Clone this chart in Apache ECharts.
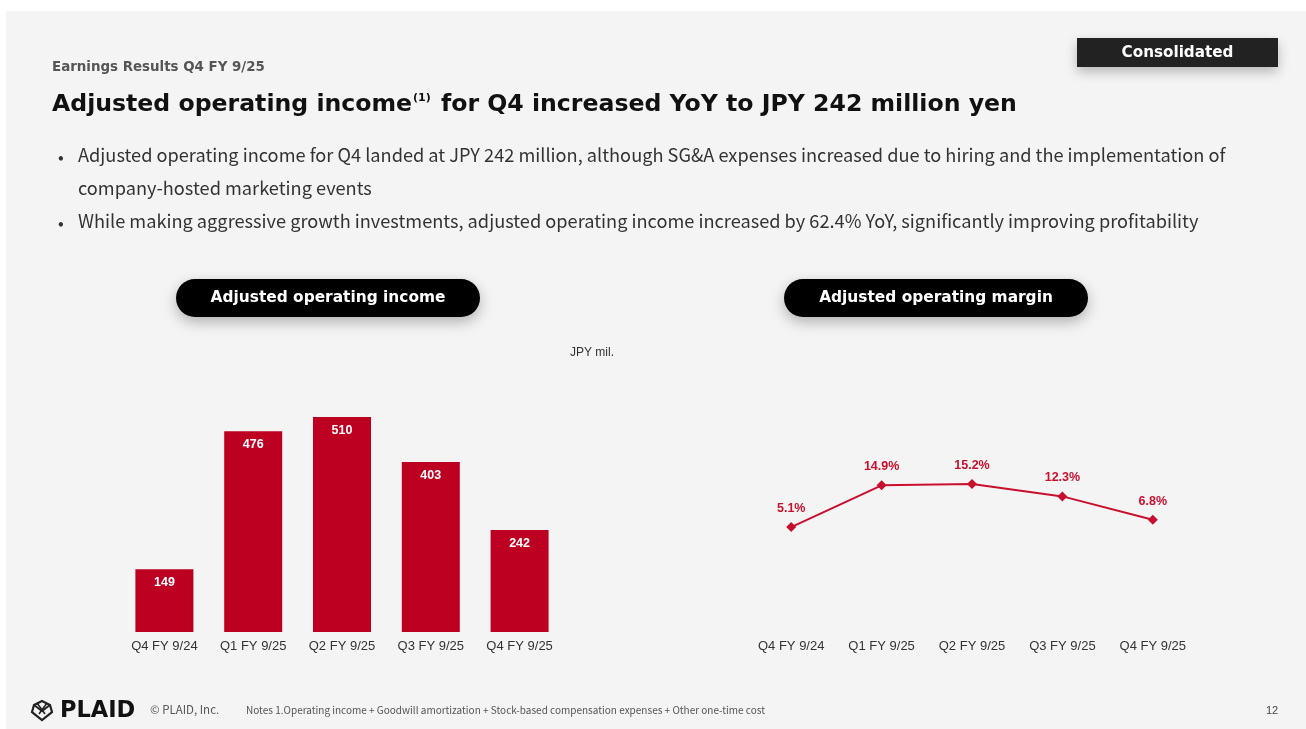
<!DOCTYPE html>
<html>
<head>
<meta charset="utf-8">
<script src="https://cdn.jsdelivr.net/npm/echarts@6/dist/echarts.min.js"></script>
<style>
  html, body { margin: 0; padding: 0; background: #ffffff; }
  #chart { width: 1306px; height: 729px; }
</style>
</head>
<body>
<div id="chart"></div>
<script>
// Quarterly periods shown on both panels
const quarters = ['Q4 FY 9/24', 'Q1 FY 9/25', 'Q2 FY 9/25', 'Q3 FY 9/25', 'Q4 FY 9/25'];
// Adjusted operating income, JPY mil.
const adjOperatingIncome = [149, 476, 510, 403, 242];
// Adjusted operating margin, %
const adjOperatingMargin = [5.1, 14.9, 15.2, 12.3, 6.8];

const bullets = [
  'Adjusted operating income for Q4 landed at JPY 242 million, although SG&A expenses increased due to hiring and the implementation of',
  'company-hosted marketing events',
  'While making aggressive growth investments, adjusted operating income increased by 62.4% YoY, significantly improving profitability'
];

const RED_BAR = '#bd0022';
const RED_LINE = '#c8102e';
const HEAD_FONT = '"DejaVu Sans", Inter, sans-serif';
const BODY_FONT = '"Noto Sans CJK JP", "Noto Sans", sans-serif';
const AXIS_FONT = '"Liberation Sans", Arial, sans-serif';

const chart = echarts.init(document.getElementById('chart'), null, { renderer: 'canvas' });

function pill(x, y, w, h, label) {
  return {
    type: 'group',
    children: [
      {
        type: 'rect',
        shape: { x: x, y: y, width: w, height: h, r: h / 2 },
        style: { fill: '#000', shadowBlur: 14, shadowOffsetY: 5, shadowColor: 'rgba(0,0,0,0.28)' }
      },
      {
        type: 'text',
        x: x + w / 2, y: y + h / 2,
        style: { text: label, fill: '#fff', font: '700 15.4px ' + HEAD_FONT, align: 'center', verticalAlign: 'middle' }
      }
    ]
  };
}

const graphics = [
  // slide background
  { type: 'rect', shape: { x: 6, y: 11, width: 1300, height: 718 }, style: { fill: '#f4f4f4' }, z: -10 },
  // header
  { type: 'text', x: 52, y: 68, style: { text: 'Earnings Results Q4 FY 9/25', fill: '#555', font: '700 13.4px ' + HEAD_FONT, verticalAlign: 'middle' } },
  {
    type: 'text', x: 52, y: 105,
    style: {
      text: '{t|Adjusted operating income}{s|(1)}{t| for Q4 increased YoY to JPY 242 million yen}',
      verticalAlign: 'middle',
      rich: {
        t: { font: '700 23.6px ' + HEAD_FONT, fill: '#111' },
        s: { font: '700 11px ' + HEAD_FONT, fill: '#111', verticalAlign: 'top', padding: [0, 2, 11, 1] }
      }
    }
  },
  // Consolidated tag
  { type: 'rect', shape: { x: 1077, y: 38, width: 201, height: 29 }, style: { fill: '#222', shadowBlur: 12, shadowOffsetY: 5, shadowColor: 'rgba(0,0,0,0.25)' } },
  { type: 'text', x: 1177.5, y: 53, style: { text: 'Consolidated', fill: '#fff', font: '700 15.2px ' + HEAD_FONT, align: 'center', verticalAlign: 'middle' } },
  // bullets
  { type: 'text', x: 58, y: 157, style: { text: '•', fill: '#333', font: '17px ' + BODY_FONT, verticalAlign: 'middle' } },
  { type: 'text', x: 78, y: 155, style: { text: bullets[0], fill: '#333', font: '18.2px ' + BODY_FONT, verticalAlign: 'middle' } },
  { type: 'text', x: 78, y: 188, style: { text: bullets[1], fill: '#333', font: '18.2px ' + BODY_FONT, verticalAlign: 'middle' } },
  { type: 'text', x: 58, y: 223, style: { text: '•', fill: '#333', font: '17px ' + BODY_FONT, verticalAlign: 'middle' } },
  { type: 'text', x: 78, y: 221, style: { text: bullets[2], fill: '#333', font: '18.2px ' + BODY_FONT, verticalAlign: 'middle' } },
  // panel pills
  pill(176, 279, 304, 38, 'Adjusted operating income'),
  pill(784, 279, 304, 38, 'Adjusted operating margin'),
  // unit
  { type: 'text', x: 570, y: 353, style: { text: 'JPY mil.', fill: '#333', font: '12px ' + AXIS_FONT, verticalAlign: 'middle' } },
  // footer logo mark
  {
    type: 'group', x: 42, y: 710,
    children: [
      { type: 'polygon', shape: { points: [[0, -9], [8, -5], [10, 2], [0, 10], [-10, 2], [-8, -5]] }, style: { fill: 'none', stroke: '#222', lineWidth: 2.2 } },
      { type: 'polyline', shape: { points: [[-8, -5], [0, 1], [8, -5]] }, style: { fill: 'none', stroke: '#222', lineWidth: 1.8 } },
      { type: 'polyline', shape: { points: [[-5, -7], [3, 4]] }, style: { fill: 'none', stroke: '#222', lineWidth: 1.6 } },
      { type: 'polyline', shape: { points: [[5, -7], [-3, 4]] }, style: { fill: 'none', stroke: '#222', lineWidth: 1.6 } }
    ]
  },
  { type: 'text', x: 60, y: 711, style: { text: 'PLAID', fill: '#111', font: '700 22.5px ' + HEAD_FONT, verticalAlign: 'middle' } },
  { type: 'text', x: 150, y: 710, style: { text: '© PLAID, Inc.', fill: '#555', font: '11.5px ' + BODY_FONT, verticalAlign: 'middle' } },
  { type: 'text', x: 246, y: 710, style: { text: 'Notes 1.Operating income + Goodwill amortization + Stock-based compensation expenses + Other one-time cost', fill: '#555', font: '10px ' + BODY_FONT, verticalAlign: 'middle' } },
  { type: 'text', x: 1266, y: 711, style: { text: '12', fill: '#444', font: '11px ' + AXIS_FONT, verticalAlign: 'middle' } }
];

const axisLabelStyle = { color: '#333', fontSize: 13, fontFamily: AXIS_FONT, margin: 8 };

chart.setOption({
  backgroundColor: 'transparent',
  animation: false,
  graphic: graphics,
  grid: [
    { left: 120, top: 379, width: 444, height: 253 },
    { left: 746, top: 421, width: 452, height: 213 }
  ],
  xAxis: [
    {
      gridIndex: 0, type: 'category', data: quarters,
      axisLine: { show: false }, axisTick: { show: false }, axisLabel: axisLabelStyle
    },
    {
      gridIndex: 1, type: 'category', data: quarters,
      axisLine: { show: false }, axisTick: { show: false }, axisLabel: Object.assign({}, axisLabelStyle, { margin: 6 })
    }
  ],
  yAxis: [
    { gridIndex: 0, type: 'value', min: 0, max: 600, show: false, splitLine: { show: false } },
    { gridIndex: 1, type: 'value', min: -20, max: 30, show: false, splitLine: { show: false } }
  ],
  series: [
    {
      type: 'bar', xAxisIndex: 0, yAxisIndex: 0,
      data: adjOperatingIncome,
      barWidth: 58,
      itemStyle: { color: RED_BAR },
      label: {
        show: true, position: 'insideTop', distance: 7,
        color: '#fff', fontWeight: 'bold', fontSize: 12.5, fontFamily: AXIS_FONT
      }
    },
    {
      type: 'line', xAxisIndex: 1, yAxisIndex: 1,
      data: adjOperatingMargin,
      symbol: 'diamond', symbolSize: 10,
      lineStyle: { color: RED_LINE, width: 2 },
      itemStyle: { color: RED_LINE },
      label: {
        show: true, position: 'top', distance: 7,
        color: RED_LINE, fontWeight: 'bold', fontSize: 12.5, fontFamily: AXIS_FONT,
        formatter: p => p.value.toFixed(1) + '%'
      }
    }
  ]
});
</script>
</body>
</html>
